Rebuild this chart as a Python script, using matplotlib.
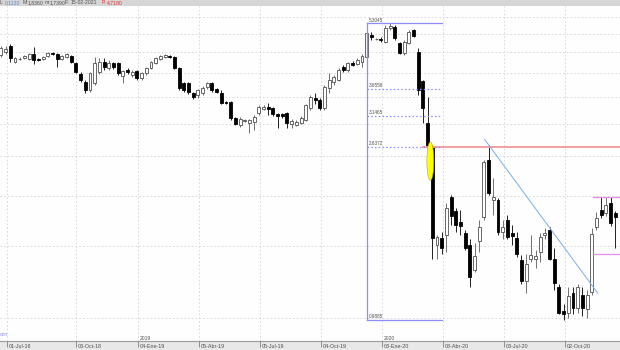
import numpy as np
import pandas as pd
import matplotlib
matplotlib.use('Agg')
import matplotlib.pyplot as plt
import matplotlib.dates as mdates
import matplotlib.transforms as mtransforms
from matplotlib.patches import Rectangle

# ---------------- data ----------------
dates = pd.date_range('2018-06-13', periods=132, freq='7D')

opens = [4.43, 4.51, 4.66, 4.26, 4.33, 4.36, 4.33, 4.46, 4.33, 4.33,
         4.41, 4.48, 4.46, 4.33, 4.38, 4.41, 4.24, 3.98, 3.80, 3.64,
         3.78, 4.03, 4.26, 4.12, 4.24, 4.24, 3.94, 4.07, 3.96, 4.05,
         3.89, 4.00, 4.12, 4.24, 4.33, 4.38, 4.41, 4.38, 4.12, 3.78,
         3.78, 3.57, 3.53, 3.57, 3.70, 3.78, 3.66, 3.57, 3.40, 3.40,
         3.10, 2.98, 3.05, 3.02, 3.03, 3.19, 3.26, 3.30, 3.28, 3.17,
         3.17, 3.19, 3.00, 2.98, 3.02, 3.07, 3.28, 3.47, 3.44, 3.28,
         3.68, 3.80, 3.85, 4.14, 4.07, 4.24, 4.21, 4.26, 4.38, 4.96,
         4.85, 4.86, 4.77, 5.16, 5.19, 4.74, 4.48, 4.74, 5.11, 4.51,
         3.83, 3.02, 2.63, 1.51, 1.57, 1.60, 1.98, 1.83, 1.72, 1.62,
         1.51, 1.31, 1.55, 1.77, 2.45, 1.95, 1.95, 1.63, 1.74, 1.62,
         1.57, 1.39, 1.23, 1.40, 1.40, 1.45, 1.60, 1.65, 1.40, 1.19,
         1.04, 1.03, 1.15, 1.06, 1.14, 1.05, 1.16, 1.67, 1.84, 1.81,
         1.92, 1.81]
highs = [4.66, 4.66, 4.72, 4.38, 4.38, 4.43, 4.48, 4.64, 4.36, 4.41,
         4.51, 4.51, 4.48, 4.43, 4.48, 4.43, 4.26, 4.03, 3.85, 4.03,
         4.38, 4.36, 4.36, 4.31, 4.26, 4.26, 4.07, 4.12, 4.07, 4.07,
         4.03, 4.14, 4.29, 4.38, 4.43, 4.46, 4.43, 4.41, 4.14, 3.80,
         3.80, 3.59, 3.66, 3.72, 3.80, 3.80, 3.68, 3.64, 3.42, 3.42,
         3.12, 3.12, 3.09, 3.09, 3.16, 3.34, 3.34, 3.38, 3.30, 3.19,
         3.19, 3.21, 3.09, 3.07, 3.14, 3.36, 3.53, 3.57, 3.47, 3.74,
         4.00, 3.96, 4.12, 4.19, 4.26, 4.29, 4.36, 4.46, 5.11, 5.05,
         4.88, 4.91, 5.25, 5.3045, 5.25, 4.77, 4.83, 5.11, 5.14, 4.61,
         3.85, 3.49, 2.66, 1.60, 1.63, 1.92, 2.01, 1.86, 1.84, 1.65,
         1.56, 1.53, 1.74, 2.45, 2.66, 2.21, 1.97, 1.74, 1.79, 1.69,
         1.63, 1.43, 1.44, 1.60, 1.47, 1.62, 1.66, 1.67, 1.49, 1.21,
         1.08, 1.19, 1.19, 1.21, 1.19, 1.17, 1.66, 1.82, 1.98, 1.98,
         1.98, 1.83]
lows = [4.38, 4.46, 4.26, 4.24, 4.31, 4.33, 4.31, 4.21, 4.29, 4.31,
        4.38, 4.43, 4.14, 4.31, 4.36, 4.24, 4.00, 3.80, 3.57, 3.59,
        3.74, 3.98, 4.07, 4.07, 4.10, 3.96, 3.78, 3.98, 3.91, 3.85,
        3.85, 3.96, 4.10, 4.21, 4.31, 4.36, 4.36, 4.10, 3.64, 3.59,
        3.55, 3.46, 3.47, 3.53, 3.66, 3.59, 3.57, 3.36, 3.36, 3.07,
        2.98, 2.95, 3.03, 2.85, 2.90, 3.16, 3.25, 3.16, 3.14, 2.93,
        3.10, 2.93, 2.93, 2.97, 3.00, 3.05, 3.25, 3.36, 3.25, 3.25,
        3.57, 3.74, 3.83, 4.03, 4.03, 4.17, 4.19, 4.14, 4.31, 4.83,
        4.83, 4.77, 4.74, 5.11, 4.83, 4.46, 4.43, 4.72, 4.91, 3.53,
        3.02, 2.62, 1.40, 1.40, 1.44, 1.45, 1.69, 1.63, 1.60, 1.47,
        1.19, 1.30, 1.45, 1.74, 2.01, 1.79, 1.60, 1.56, 1.56, 1.51,
        1.41, 1.21, 1.15, 1.37, 1.33, 1.37, 1.56, 1.39, 1.17, 1.02,
        0.9885, 1.00, 1.02, 1.03, 1.01, 1.00, 1.14, 1.65, 1.76, 1.78,
        1.68, 1.49]
closes = [4.61, 4.59, 4.36, 4.36, 4.34, 4.41, 4.46, 4.31, 4.32, 4.38,
          4.48, 4.46, 4.33, 4.41, 4.46, 4.26, 4.03, 3.85, 3.64, 4.00,
          4.24, 4.26, 4.14, 4.24, 4.14, 4.00, 4.05, 4.03, 4.03, 3.89,
          4.00, 4.12, 4.26, 4.36, 4.41, 4.43, 4.38, 4.12, 3.68, 3.64,
          3.59, 3.49, 3.64, 3.68, 3.78, 3.64, 3.59, 3.38, 3.38, 3.10,
          3.00, 3.09, 3.07, 3.07, 3.12, 3.30, 3.30, 3.26, 3.17, 3.14,
          3.14, 3.02, 3.05, 3.03, 3.10, 3.34, 3.49, 3.44, 3.28, 3.70,
          3.85, 3.91, 4.07, 4.07, 4.24, 4.19, 4.31, 4.41, 5.02, 4.91,
          4.86, 4.83, 5.16, 5.22, 4.88, 4.48, 4.77, 5.05, 4.94, 3.64,
          3.28, 2.63, 1.57, 1.58, 1.49, 1.86, 1.78, 1.69, 1.68, 1.49,
          1.26, 1.42, 1.67, 2.42, 2.03, 1.98, 1.63, 1.67, 1.58, 1.59,
          1.44, 1.23, 1.36, 1.43, 1.42, 1.58, 1.62, 1.40, 1.22, 1.03,
          1.02, 1.13, 1.06, 1.19, 1.06, 1.14, 1.61, 1.76, 1.79, 1.90,
          1.71, 1.77]

tick_dates = pd.to_datetime(['2018-06-22', '2018-10-03', '2019-01-04', '2019-04-05',
                             '2019-07-05', '2019-10-04', '2020-01-03', '2020-04-03',
                             '2020-07-03', '2020-10-02'])
tick_labels = ['01-Jul-18', '03-Oct-18', '04-Ene-19', '05-Abr-19', '05-Jul-19',
               '04-Oct-19', '03-Ene-20', '03-Abr-20', '03-Jul-20', '02-Oct-20']
year_dates = pd.to_datetime(['2019-01-04', '2020-01-03'])
year_labels = ['2019', '2020']
grid_prices = [1.0, 1.5, 2.0, 2.5, 3.0, 3.5, 4.0, 4.5, 5.0, 5.5]

fib_high = 5.3045
fib_low = 0.9885
fib_ratios = [0.0, 0.382, 0.5, 0.618, 1.0]
red_level = 2.6372
trend_dates = pd.to_datetime(['2020-06-04', '2020-11-20'])
trend_prices = [2.75, 1.15]
box_levels = [1.98, 1.44]
box_start = pd.Timestamp('2020-11-13')
hl_center = (pd.Timestamp('2020-03-15'), 2.43)

header = [('L:', '#505050'), ('0,1130', '#5b8bd0'), ('M:', '#505050'), ('1,8360', '#505050'),
          ('m:', '#505050'), ('1,7390', '#505050'), ('F:', '#505050'), ('15-02-2021', '#505050'),
          ('P:', '#e03030'), ('4,7180', '#e03030')]
header_x = [0, 5, 23, 28, 45, 50, 65, 71, 102, 107]

# ---------------- figure ----------------
plt.rcParams['font.family'] = ['Liberation Sans', 'DejaVu Sans']
W, H = 620, 350
fig = plt.figure(figsize=(6.2, 3.5), dpi=100, facecolor='#e8e8e8')
fig.patches.append(Rectangle((0, 1 - 6 / H), 1, 6 / H, transform=fig.transFigure,
                             facecolor='#d6d6d6', edgecolor='none', zorder=0))
ax = fig.add_axes([0, 1 - 341 / H, 1, (341 - 6) / H])
ax.set_facecolor('#fefefe')
ax.set_yscale('log')
ax.set_ylim(0.8777, 5.850)
x0 = mdates.date2num(pd.Timestamp('2018-06-11 15:00'))
x1 = x0 + 620 / 0.6699
ax.set_xlim(x0, x1)
for s in ['top', 'left', 'right']:
    ax.spines[s].set_visible(False)
ax.spines['bottom'].set_color('#9a9a9a')
ax.spines['bottom'].set_linewidth(0.8)
ax.yaxis.set_visible(False)
ax.yaxis.set_minor_locator(matplotlib.ticker.NullLocator())

xd = mdates.date2num(dates)
td = mdates.date2num(tick_dates)
ax.set_xticks(td)
ax.set_xticklabels([])
ax.tick_params(axis='x', direction='out', length=4.5, width=0.6, color='#808080')
ax.xaxis.set_minor_locator(matplotlib.ticker.NullLocator())

# grid
grid_kw = dict(color='#d4d4d4', lw=0.6, ls=(0, (2, 2.5)), zorder=0)
for g in grid_prices:
    ax.axhline(g, **grid_kw)
for t in td:
    ax.axvline(t, **grid_kw)

# candles
o = np.array(opens); h = np.array(highs); l = np.array(lows); c = np.array(closes)
up = c >= o
bw = 4.4
ax.vlines(xd[up], l[up], h[up], color='#707070', lw=0.7, zorder=2)
ax.vlines(xd[~up], l[~up], h[~up], color='#202020', lw=0.7, zorder=2)
bot = np.minimum(o, c)
hgt = np.maximum(np.abs(c - o), 0.004)
ax.bar(xd[up], hgt[up], bottom=bot[up], width=bw, color='white', edgecolor='#505050',
       linewidth=0.6, zorder=3)
ax.bar(xd[~up], hgt[~up], bottom=bot[~up], width=bw, color='black', edgecolor='black',
       linewidth=0.6, zorder=3)

# fibonacci retracement
fib_x0 = xd[78]
fib_x1 = xd[94]
fib_col = '#8c8cff'
ax.plot([fib_x0, fib_x0], [fib_low, fib_high], color=fib_col, lw=0.9, zorder=4)
for r in fib_ratios:
    lev = fib_high - r * (fib_high - fib_low)
    ls = '-' if r in (0.0, 1.0) else (0, (1.2, 1.8))
    ax.plot([fib_x0, fib_x1], [lev, lev], color=fib_col, lw=0.9, ls=ls, zorder=4)
    ax.text(fib_x0 + 3, lev * 1.004, '%.4f' % lev, fontsize=3.3, color='#505050',
            va='bottom', ha='left', zorder=5)

# red level line
ax.plot([xd[90], x1], [red_level, red_level], color='#f3a0a0', lw=1.4, zorder=3.5)

# trend line
ax.plot(mdates.date2num(trend_dates), trend_prices, color='#7aaee8', lw=0.7, zorder=4)

# magenta box lines
for b in box_levels:
    ax.plot([mdates.date2num(box_start), x1], [b, b], color='#e48ce4', lw=0.9, zorder=4)

# yellow highlight
t = np.linspace(0, 2 * np.pi, 100)
cx = mdates.date2num(hl_center[0])
ex = cx + 5.2 * np.cos(t)
ey = np.exp(np.log(hl_center[1]) + 0.108 * np.sin(t))
ax.fill(ex, ey, color='#ffff00', ec='#b0b000', lw=0.4, zorder=5)

# x tick labels
tr = mtransforms.offset_copy(ax.get_xaxis_transform(), fig=fig, x=1.5, y=0, units='dots')
for d, lab in zip(td, tick_labels):
    ax.text(d, -5 / 335, lab, transform=tr, fontsize=3.9, color='#505050',
            ha='left', va='center', clip_on=False)
for d, lab in zip(mdates.date2num(year_dates), year_labels):
    ax.text(d, 3 / 335, lab, transform=tr, fontsize=3.6, color='#505050',
            ha='left', va='center')

# watermark fragment
ax.text(0.0, 7 / 335, 'om', transform=ax.transAxes, fontsize=4.4, color='#9a9ae0',
        ha='left', va='center')

# header
for (txt, col), hx in zip(header, header_x):
    fig.text(hx / W, 1 - 3 / H, txt, fontsize=3.7, color=col, ha='left', va='center')

fig.savefig('out.png', dpi=100, facecolor=fig.get_facecolor())
